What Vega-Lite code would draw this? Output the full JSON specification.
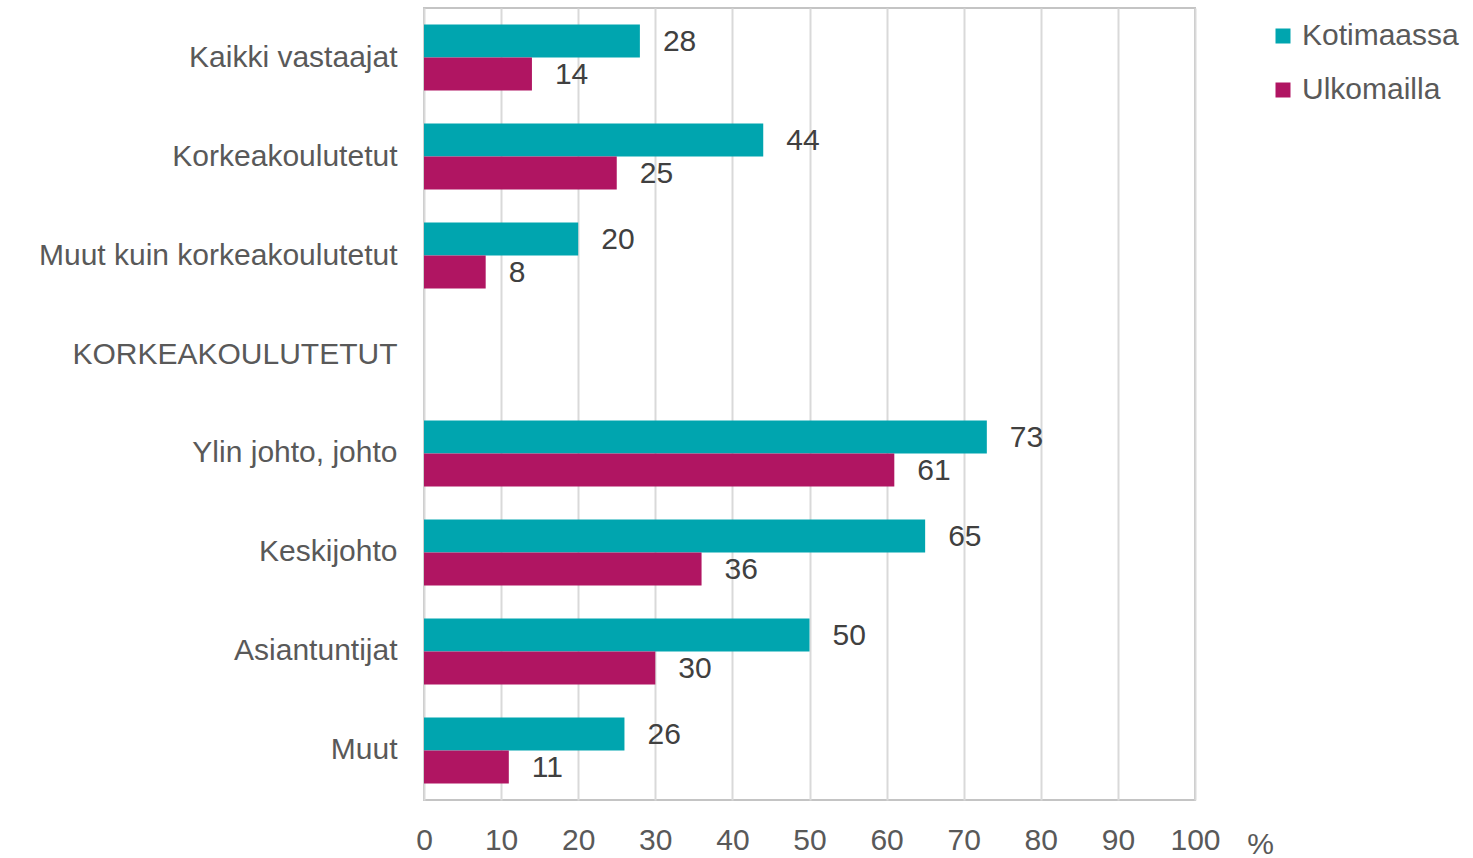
{
  "$schema": "https://vega.github.io/schema/vega-lite/v6.json",
  "width": 771,
  "height": 792,
  "autosize": {"type": "none"},
  "padding": {"left": 424, "top": 8, "right": 278, "bottom": 58},
  "background": "white",
  "config": {
    "font": "Liberation Sans",
    "view": {"stroke": "#C4C4C4", "strokeWidth": 2}
  },
  "data": {
    "values": [
      {"ryhma": "Kaikki vastaajat", "sarja": "Kotimaassa", "arvo": 28},
      {"ryhma": "Kaikki vastaajat", "sarja": "Ulkomailla", "arvo": 14},
      {"ryhma": "Korkeakoulutetut", "sarja": "Kotimaassa", "arvo": 44},
      {"ryhma": "Korkeakoulutetut", "sarja": "Ulkomailla", "arvo": 25},
      {"ryhma": "Muut kuin korkeakoulutetut", "sarja": "Kotimaassa", "arvo": 20},
      {"ryhma": "Muut kuin korkeakoulutetut", "sarja": "Ulkomailla", "arvo": 8},
      {"ryhma": "Ylin johto, johto", "sarja": "Kotimaassa", "arvo": 73},
      {"ryhma": "Ylin johto, johto", "sarja": "Ulkomailla", "arvo": 61},
      {"ryhma": "Keskijohto", "sarja": "Kotimaassa", "arvo": 65},
      {"ryhma": "Keskijohto", "sarja": "Ulkomailla", "arvo": 36},
      {"ryhma": "Asiantuntijat", "sarja": "Kotimaassa", "arvo": 50},
      {"ryhma": "Asiantuntijat", "sarja": "Ulkomailla", "arvo": 30},
      {"ryhma": "Muut", "sarja": "Kotimaassa", "arvo": 26},
      {"ryhma": "Muut", "sarja": "Ulkomailla", "arvo": 11}
    ]
  },
  "encoding": {
    "y": {
      "field": "ryhma",
      "type": "nominal",
      "scale": {
        "domain": ["Kaikki vastaajat", "Korkeakoulutetut", "Muut kuin korkeakoulutetut", "KORKEAKOULUTETUT", "Ylin johto, johto", "Keskijohto", "Asiantuntijat", "Muut"],
        "paddingInner": 0.333,
        "paddingOuter": 0.1667
      },
      "axis": {
        "title": null,
        "domain": false,
        "ticks": false,
        "labelFontSize": 30,
        "labelColor": "#595959",
        "labelPadding": 27,
        "labelLimit": 500
      }
    },
    "yOffset": {"field": "sarja", "type": "nominal", "scale": {"domain": ["Kotimaassa", "Ulkomailla"]}},
    "x": {
      "field": "arvo",
      "type": "quantitative",
      "scale": {"domain": [0, 100], "nice": false},
      "axis": {
        "values": [0, 10, 20, 30, 40, 50, 60, 70, 80, 90, 100],
        "title": "%",
        "titleFontSize": 30,
        "titleFontWeight": "normal",
        "titleColor": "#595959",
        "titleX": 836,
        "titleY": 44,
        "titleAlign": "center",
        "titleBaseline": "middle",
        "domain": false,
        "ticks": false,
        "labelFlush": false,
        "labelFontSize": 30,
        "labelColor": "#595959",
        "labelPadding": 25,
        "grid": true,
        "gridColor": "#D9D9D9",
        "gridWidth": 2
      }
    }
  },
  "layer": [
    {
      "mark": {"type": "bar"},
      "encoding": {
        "color": {
          "field": "sarja",
          "type": "nominal",
          "scale": {"domain": ["Kotimaassa", "Ulkomailla"], "range": ["#00A5AF", "#B01562"]},
          "legend": {
            "title": null,
            "orient": "none",
            "legendX": 844,
            "legendY": 13,
            "symbolType": "square",
            "symbolSize": 225,
            "symbolStrokeWidth": 0,
            "labelFontSize": 30,
            "labelColor": "#595959",
            "labelOffset": 4,
            "rowPadding": 24,
            "padding": 0
          }
        }
      }
    },
    {
      "mark": {"type": "text", "align": "left", "baseline": "middle", "dx": 23, "dy": 1, "fontSize": 30, "color": "#404040"},
      "encoding": {
        "text": {"field": "arvo", "type": "quantitative"}
      }
    }
  ]
}
